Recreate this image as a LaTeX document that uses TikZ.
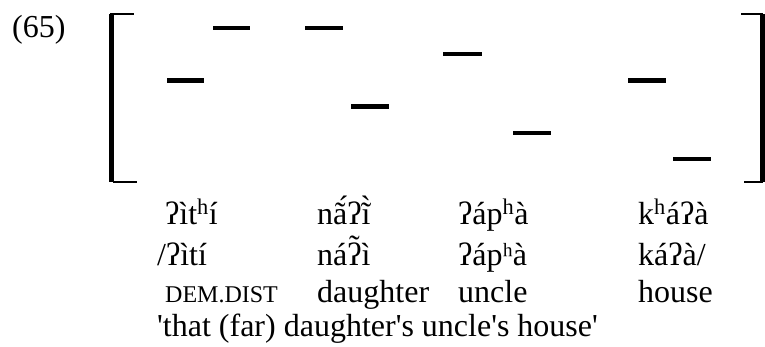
\documentclass[tikz,border=0pt]{standalone}
\usepackage{fontspec}
\setmainfont{Liberation Serif}
\usetikzlibrary{positioning}

% glottal stop with a tilde over it
\newcommand{\glottilde}{\ooalign{ʔ\cr\hidewidth\raisebox{0.24em}{˜}\hidewidth\cr}}

\begin{document}
\begin{tikzpicture}[
        x=1pt, y=-1pt,
        % text of the example
        word/.style = {
            anchor=base west,
            inner sep=0pt,
            font=\fontsize{32}{38}\selectfont
        },
        % smaller caps for the gloss
        gloss cap/.style = {
            word,
            font=\fontsize{24}{28}\selectfont
        },
        % pitch bars
        tone bar/.style = {
            line width=4.5pt
        },
        % bracket around the pitch track
        bracket/.style = {
            line width=5pt
        },
        bracket tick/.style = {
            line width=2pt
        }
    ]
    \useasboundingbox (0,0) rectangle (765,346);

    % number of the example
    \node[word] (num) at (12,37) {(65)};

    % brackets
    \draw[bracket] (111,14) -- (111,182);
    \draw[bracket tick] (110,14) -- (134,14);
    \draw[bracket tick] (113,182) -- (137,182);
    \draw[bracket] (762,14) -- (762,182);
    \draw[bracket tick] (763,14) -- (741,14);
    \draw[bracket tick] (763,182) -- (744,182);

    % pitch bars: start/end/level
    \foreach \xa/\xb/\lv in {167/204/2, 213/250/0, 305/343/0, 351/389/3,
                              443/482/1, 513/551/4, 628/666/2, 673/711/5}
        \draw[tone bar] (\xa,28+26.2*\lv) -- (\xb,28+26.2*\lv);

    % surface line
    \node[word] (s1) at (165,224) {ʔìt\textsuperscript{h}í};
    \node[word] (s2) at (317,224) {nã́ʔĩ̀};
    \node[word] (s3) at (458,224) {ʔáp\textsuperscript{h}à};
    \node[word] (s4) at (638,224) {k\textsuperscript{h}áʔà};

    % underlying line
    \node[word] (u1) at (157,265) {/ʔìtí};
    \node[word] (u2) at (317,265) {ná\glottilde ì};
    \node[word] (u3) at (458,265) {ʔápʰà};
    \node[word] (u4) at (638,265) {káʔà/};

    % gloss line
    \node[gloss cap] (g1) at (165,302) {DEM.DIST};
    \node[word] (g2) at (317,302) {daughter};
    \node[word] (g3) at (458,302) {uncle};
    \node[word] (g4) at (638,302) {house};

    % translation
    \node[word] (tr) at (157,336) {\textquotesingle that (far) daughter\textquotesingle s uncle\textquotesingle s house\textquotesingle};
\end{tikzpicture}
\end{document}
